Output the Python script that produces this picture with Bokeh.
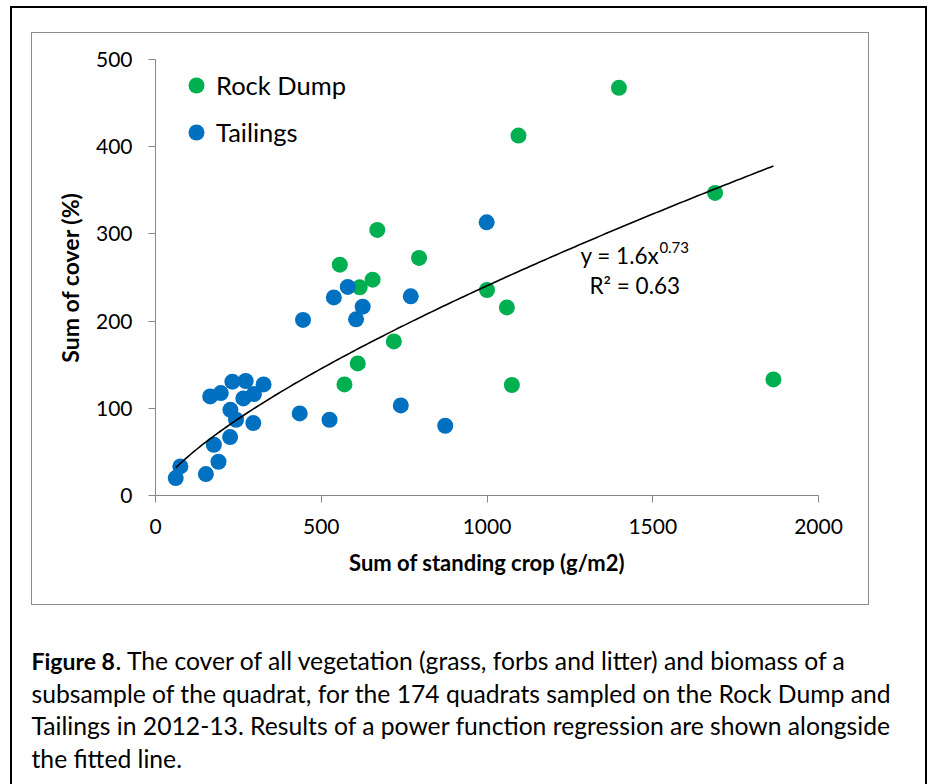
import numpy as np
from bokeh.plotting import figure
from bokeh.models import Range1d, FixedTicker, Label, Legend, LegendItem
from bokeh.embed import file_html
from bokeh.resources import INLINE

# ---- data ----
rock_x = [669, 795, 556, 616, 655, 1000, 1060, 719, 610, 570, 1075, 1398, 1095, 1688, 1864]
rock_y = [304.6, 272.4, 264.7, 238.7, 247.5, 235.7, 215.7, 176.7, 151.5, 127.4, 126.7, 467.5, 412.8, 347.0, 133.1]
tail_x = [999, 538, 580, 770, 445, 625, 605, 232, 272, 326, 165, 197, 265, 297, 226, 243, 295,
          435, 525, 740, 874, 225, 176, 190, 152, 75, 61]
tail_y = [313.3, 227.2, 239.2, 228.4, 201.3, 216.5, 202.0, 130.5, 131.3, 127.4, 113.6, 117.5, 111.3,
          116.4, 98.3, 86.9, 83.1, 94.1, 86.9, 103.3, 80.0, 67.0, 58.2, 38.7, 24.6, 33.3, 20.0]
x_ticks = [0, 500, 1000, 1500, 2000]
y_ticks = [0, 100, 200, 300, 400, 500]
series_names = ["Rock Dump", "Tailings"]
series_colors = ["#00B050", "#0070C0"]
equation_text = "y = 1.6x"
equation_exp = "0.73"
r2_text = "R\u00b2 = 0.63"
x_title = "Sum of standing crop (g/m2)"
y_title = "Sum of cover (%)"
caption_bold = "Figure 8"
caption_lines = [
    ". The cover of all vegetation (grass, forbs and litter) and biomass of a",
    "subsample of the quadrat, for the 174 quadrats sampled on the Rock Dump and",
    "Tailings in 2012-13. Results of a power function regression are shown alongside",
    "the fitted line.",
]

# ---- power-function trendline fitted to the data ----
all_x = np.array(rock_x + tail_x, dtype=float)
all_y = np.array(rock_y + tail_y, dtype=float)
b_fit, ln_a = np.polyfit(np.log(all_x), np.log(all_y), 1)
fit_x = np.linspace(all_x.min(), all_x.max(), 200)
fit_y = np.exp(ln_a) * fit_x ** b_fit

FONT = "Lato"
W, H = 928, 784

p = figure(width=W, height=H, output_backend="svg", toolbar_location=None,
           x_range=Range1d(0, 2000), y_range=Range1d(0, 500),
           min_border_left=155, min_border_right=110, min_border_top=59, min_border_bottom=289)
p.background_fill_color = None
p.border_fill_color = None
p.outline_line_color = None
p.xgrid.visible = False
p.ygrid.visible = False

# outer black border and grey chart-area border, drawn as CSS background lines behind the canvas
black, grey = "linear-gradient(#000, #000)", "linear-gradient(#8c8c8c, #8c8c8c)"
p.styles = {
    "background-color": "white",
    "background-image": ", ".join([black] * 3 + [grey] * 4),
    "background-size": "2px 800px, 917px 2px, 2px 800px, 1px 573px, 1px 573px, 838px 1px, 838px 1px",
    "background-position": "10px 6px, 10px 6px, 925px 6px, 31px 32px, 868px 32px, 31px 32px, 31px 604px",
    "background-repeat": "no-repeat",
}

for ax, ticks in ((p.xaxis[0], x_ticks), (p.yaxis[0], y_ticks)):
    ax.ticker = FixedTicker(ticks=ticks)
    ax.axis_line_color = "#868686"
    ax.major_tick_line_color = "#868686"
    ax.major_tick_out = 7
    ax.major_tick_in = 0
    ax.minor_tick_line_color = None
    ax.major_label_text_font = FONT
    ax.major_label_text_font_size = "21px"
    ax.major_label_text_color = "#000000"
    ax.axis_label_text_font = FONT
    ax.axis_label_text_font_size = "22px"
    ax.axis_label_text_font_style = "bold"
    ax.axis_label_text_color = "#000000"

p.xaxis.axis_label = x_title
p.yaxis.axis_label = y_title
p.yaxis.axis_label_text_font_size = "23px"
p.xaxis.major_label_standoff = 16
p.yaxis.major_label_standoff = 16
p.xaxis.axis_label_standoff = 12
p.yaxis.axis_label_standoff = 9
p.yaxis.major_label_orientation = "horizontal"

r_rock = p.scatter(rock_x, rock_y, size=16, fill_color=series_colors[0], line_color=None)
r_tail = p.scatter(tail_x, tail_y, size=16, fill_color=series_colors[1], line_color=None)
p.line(fit_x, fit_y, line_color="black", line_width=1.6)

legend = Legend(items=[LegendItem(label=series_names[0], renderers=[r_rock]),
                       LegendItem(label=series_names[1], renderers=[r_tail])],
                location=(21, 343), orientation="vertical",
                glyph_width=40, glyph_height=40, label_height=40, spacing=7,
                padding=0, margin=0, label_standoff=0,
                border_line_color=None, background_fill_alpha=0,
                label_text_font=FONT, label_text_font_size="25.5px", label_text_color="#000000")
p.add_layout(legend, "center")

p.add_layout(Label(x=1282, y=275, text=equation_text, text_font=FONT, text_font_size="22.5px",
                   text_baseline="middle", text_align="left", text_color="#000000"))
p.add_layout(Label(x=1520, y=284, text=equation_exp, text_font=FONT, text_font_size="15px",
                   text_baseline="middle", text_align="left", text_color="#000000"))
p.add_layout(Label(x=1309, y=241, text=r2_text, text_font=FONT, text_font_size="22.5px",
                   text_baseline="middle", text_align="left", text_color="#000000"))

# caption, placed in the bottom side panel (canvas pixel units)
base = [660, 692.5, 725, 757.5]
p.add_layout(Label(x=31, y=base[0], x_units="canvas", y_units="canvas", text=caption_bold,
                   text_font=FONT, text_font_size="23px", text_font_style="bold",
                   text_baseline="alphabetic", text_color="#000000"), "below")
for i, line in enumerate(caption_lines):
    p.add_layout(Label(x=115 if i == 0 else 31, y=base[i], x_units="canvas", y_units="canvas",
                       text=line, text_font=FONT, text_font_size="24.7px",
                       text_baseline="alphabetic", text_color="#000000"), "below")

open("out.html", "w").write(file_html(p, INLINE))
